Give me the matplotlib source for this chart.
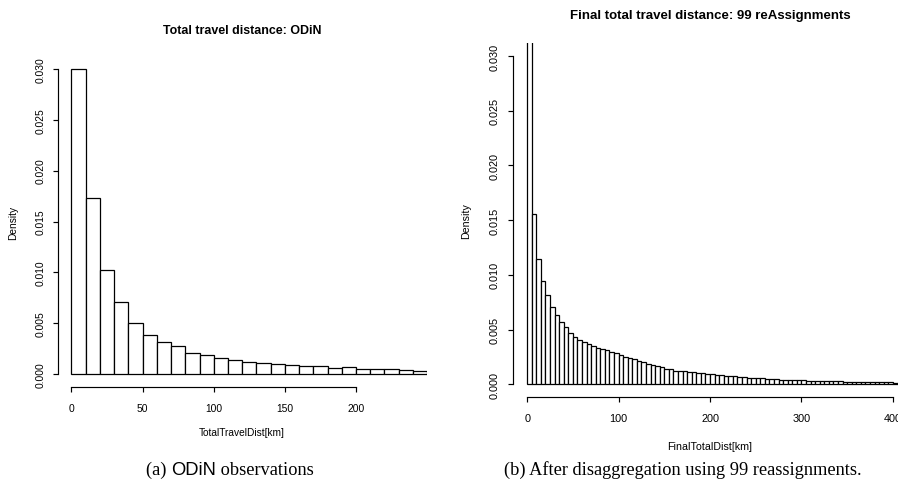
import matplotlib
matplotlib.use("Agg")
import matplotlib.pyplot as plt
import numpy as np

# ---------------- data ----------------
odin_bin_width = 10
odin_density = [0.0300, 0.01729, 0.01023, 0.00706, 0.00507, 0.00389, 0.00320,
                0.00275, 0.00209, 0.00190, 0.00160, 0.00137, 0.00121, 0.00114,
                0.00098, 0.00095, 0.00078, 0.00078, 0.00059, 0.00069, 0.00052,
                0.00049, 0.00049, 0.00039, 0.00036]

final_bin_width = 5
final_density = [0.0330, 0.0156, 0.01144, 0.00943, 0.00815, 0.00702, 0.00629,
                 0.00571, 0.00519, 0.00470, 0.00433, 0.00403, 0.00382, 0.00363,
                 0.00345, 0.00330, 0.00320, 0.00311, 0.00290, 0.00281, 0.00270,
                 0.00253, 0.00238, 0.00229, 0.00214, 0.00201, 0.00186, 0.00177,
                 0.00162, 0.00153, 0.00143, 0.00137, 0.00125, 0.00122, 0.00116,
                 0.00113, 0.00107, 0.00098, 0.00098, 0.00089, 0.00089, 0.00088,
                 0.00085, 0.00079, 0.00073, 0.00073, 0.00067, 0.00064, 0.00058,
                 0.00055, 0.00055, 0.00052, 0.00049, 0.00046, 0.00043, 0.00040,
                 0.00040, 0.00037, 0.00037, 0.00034, 0.00034, 0.00031, 0.00031,
                 0.00030, 0.00029, 0.00028, 0.00027, 0.00026, 0.00025, 0.00024,
                 0.00023, 0.00022, 0.00021, 0.00020, 0.00019, 0.00018, 0.00018,
                 0.00017, 0.00016, 0.00016, 0.00015, 0.00014]

y_ticks = [0.000, 0.005, 0.010, 0.015, 0.020, 0.025, 0.030]
y_tick_labels = ["0.000", "0.005", "0.010", "0.015", "0.020", "0.025", "0.030"]
odin_x_ticks = [0, 50, 100, 150, 200]
final_x_ticks = [0, 100, 200, 300, 400]

titles = ["Total travel distance: ODiN", "Final total travel distance: 99 reAssignments"]
xlabels = ["TotalTravelDist[km]", "FinalTotalDist[km]"]
ylabel = "Density"

# ---------------- figure ----------------
W, H = 898, 489
fig = plt.figure(figsize=(W / 100, H / 100), dpi=100)
SANS = "Liberation Sans"
SERIF = "Liberation Serif"


def fx(px):
    return px / W


def fy(py):
    return 1 - py / H


def make_axes(left, right, top, bottom):
    return fig.add_axes([fx(left), fy(bottom), fx(right) - fx(left), fy(top) - fy(bottom)])


def style(ax, xticks, fs):
    for s in ["top", "right"]:
        ax.spines[s].set_visible(False)
    ax.spines["left"].set_bounds(y_ticks[0], y_ticks[-1])
    ax.spines["bottom"].set_bounds(xticks[0], xticks[-1])
    for s in ["left", "bottom"]:
        ax.spines[s].set_linewidth(0.85)
    ax.set_yticks(y_ticks)
    ax.set_yticklabels(y_tick_labels, fontsize=fs, family=SANS, rotation=90, va="center")
    ax.set_xticks(xticks)
    ax.set_xticklabels([str(t) for t in xticks], fontsize=fs, family=SANS)
    ax.tick_params(axis="y", length=3.6, width=0.85, pad=5.5)
    ax.tick_params(axis="x", length=3.6, width=0.85, pad=8.0)
    ax.set_ylim(-0.0012, 0.0312)
    ax.patch.set_alpha(0)


# Left panel
ax1 = make_axes(57.8, 426.6, 57.5, 387.5)
edges1 = np.arange(len(odin_density)) * odin_bin_width
ax1.bar(edges1, odin_density, width=odin_bin_width, align="edge",
        facecolor="white", edgecolor="black", linewidth=0.9)
ax1.set_xlim(-9.6, 249.6)
style(ax1, odin_x_ticks, 7.4)

# Right panel
ax2 = make_axes(512.5, 907.5, 44.0, 398.3)
edges2 = np.arange(len(final_density)) * final_bin_width
ax2.bar(edges2, final_density, width=final_bin_width, align="edge",
        facecolor="white", edgecolor="black", linewidth=0.9)
ax2.set_xlim(-16, 416)
style(ax2, final_x_ticks, 7.8)

# Titles and axis labels
fig.text(fx(242), fy(31), titles[0], ha="center", va="center",
         fontsize=8.9, fontweight="bold", family=SANS)
fig.text(fx(710), fy(16), titles[1], ha="center", va="center",
         fontsize=9.5, fontweight="bold", family=SANS)
fig.text(fx(242), fy(432.5), xlabels[0], ha="center", va="center", fontsize=7.3, family=SANS)
fig.text(fx(710), fy(447), xlabels[1], ha="center", va="center", fontsize=7.7, family=SANS)
fig.text(fx(13), fy(222.5), ylabel, ha="center", va="center", rotation=90,
         fontsize=7.3, family=SANS)
fig.text(fx(465.7), fy(221), ylabel, ha="center", va="center", rotation=90,
         fontsize=7.7, family=SANS)

# Captions (mixed fonts for the left one)
cap_fs = 13.2
cap_y = fy(475)
fig.text(fx(683), cap_y, "(b) After disaggregation using 99 reassignments.",
         ha="center", va="baseline", fontsize=cap_fs, family=SERIF)

parts = [("(a) ", SERIF), ("ODiN", SANS), (" observations", SERIF)]
texts = [fig.text(0, cap_y, p, ha="left", va="baseline", fontsize=cap_fs, family=f)
         for p, f in parts]
renderer = fig.canvas.get_renderer()
widths = [t.get_window_extent(renderer).width for t in texts]
total = sum(widths)
x = 229.5 - total / 2
for t, w in zip(texts, widths):
    t.set_x(fx(x))
    x += w

fig.savefig("out.png", dpi=100)
